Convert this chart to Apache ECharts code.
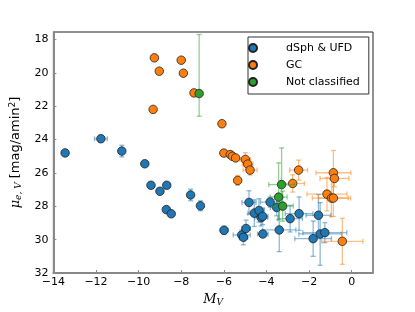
<!DOCTYPE html>
<html><head><meta charset="utf-8">
<script src="https://cdn.jsdelivr.net/npm/echarts@6/dist/echarts.min.js"></script>
<style>html,body{margin:0;padding:0;background:#fff}#c{width:415px;height:312px}</style>
</head><body><div id="c"></div>
<script>
// ---- data (M_V, mu_e,V, x error, y error lower/upper) ----
var dsphX = [-13.45,-11.77,-10.79,-9.71,-9.42,-9.0,-8.68,-8.7,-8.47,-7.56,-7.1,-5.99,-5.16,-5.08,-4.96,-4.82,-4.57,-4.35,-4.25,-4.18,-4.17,-3.83,-3.52,-3.4,-2.89,-2.47,-1.81,-1.56,-1.48,-1.26];
var dsphY = [24.8,23.95,24.69,25.45,26.74,27.1,26.74,28.2,28.45,27.32,27.97,29.44,29.72,29.86,29.33,27.77,28.41,28.25,28.68,28.6,29.66,27.75,28.07,29.42,28.74,28.44,29.94,28.54,29.66,29.58];
var dsphXErr = [0.05,0.3,0.12,0.08,0.08,0.08,0.08,0.08,0.05,0.12,0.1,0.18,0.4,0.2,0.2,0.33,0.3,0.25,0.3,0.25,0.25,0.45,0.3,0.78,0.58,0.65,0.86,0.58,1.0,1.03];
var dsphYErr = [0.1,0.2,0.35,0.12,0.1,0.1,0.1,0.12,0.1,0.35,0.3,0.25,0.3,0.45,0.5,0.7,0.8,0.7,0.5,0.5,0.2,0.3,0.5,1.3,0.8,1.0,1.06,1.25,1.88,0.6];

var gcX = [-9.26,-9.03,-9.32,-8.0,-7.9,-7.4,-6.09,-6.0,-5.7,-5.6,-5.45,-4.99,-4.88,-4.77,-5.35,-2.49,-2.77,-0.86,-0.81,-1.16,-0.95,-0.86,-0.44];
var gcY = [19.1,19.9,22.19,19.24,20.02,21.2,23.05,24.81,24.9,25.0,25.1,25.19,25.47,25.83,26.45,25.83,26.63,25.99,26.33,27.27,27.51,27.51,30.1];
var gcXErr = [0.03,0.03,0.03,0.03,0.03,0.03,0.03,0.1,0.1,0.1,0.15,0.25,0.25,0.33,0.15,0.42,0.55,0.82,0.68,0.94,0.9,0.7,0.97];
var gcYErr = [0.03,0.03,0.03,0.03,0.03,0.03,0.03,0.1,0.15,0.15,0.2,0.4,0.3,0.3,0.3,0.6,0.52,1.34,0.5,1.0,1.1,1.1,1.38];

var ncX = [-7.16,-3.29,-3.43,-3.24];
var ncY = [21.24,26.7,27.45,27.99];
var ncXErr = [0.03,0.6,0.4,0.5];
var ncYErrLo = [3.54,2.2,2.05,0.9];
var ncYErrHi = [1.36,1.4,1.35,0.9];

var xTicks = [-14,-12,-10,-8,-6,-4,-2,0];
var yTicks = [18,20,22,24,26,28,30,32];

var seriesNames = ['dSph & UFD','GC','Not classified'];
var colors = ['#1f77b4','#ff7f0e','#2ca02c'];
var errColors = ['rgba(31,119,180,0.5)','rgba(255,127,14,0.5)','rgba(44,160,44,0.5)'];

function rows(xs, ys, xe, yLo, yHi){
  return xs.map(function(x,i){ return [x, ys[i], xe[i], yLo[i], yHi[i]]; });
}
var groups = [
  rows(dsphX, dsphY, dsphXErr, dsphYErr, dsphYErr),
  rows(gcX, gcY, gcXErr, gcYErr, gcYErr),
  rows(ncX, ncY, ncXErr, ncYErrLo, ncYErrHi)
];

function errRender(color){
  return function(params, api){
    var x = api.value(0), y = api.value(1), xe = api.value(2), yl = api.value(3), yh = api.value(4);
    var l = api.coord([x - xe, y]), r = api.coord([x + xe, y]);
    var t = api.coord([x, y - yl]), b = api.coord([x, y + yh]);
    var cap = 2.5, st = {stroke: color, lineWidth: 1.3};
    var ch = [];
    function ln(x1,y1,x2,y2){ ch.push({type:'line', shape:{x1:x1,y1:y1,x2:x2,y2:y2}, style:st}); }
    ln(l[0], l[1], r[0], r[1]);
    ln(l[0], l[1]-cap, l[0], l[1]+cap);
    ln(r[0], r[1]-cap, r[0], r[1]+cap);
    ln(t[0], t[1], b[0], b[1]);
    ln(t[0]-cap, t[1], t[0]+cap, t[1]);
    ln(b[0]-cap, b[1], b[0]+cap, b[1]);
    return {type:'group', children: ch};
  };
}

var series = [];
groups.forEach(function(g, i){
  series.push({
    name: 'err' + i, type: 'custom', data: g, encode: {x: 0, y: 1},
    renderItem: errRender(errColors[i]), z: 2 + i * 2, silent: true, animation: false
  });
  series.push({
    name: seriesNames[i], type: 'scatter', data: g.map(function(r){ return [r[0], r[1]]; }),
    symbol: 'circle', symbolSize: 8.5, z: 3 + i * 2, animation: false,
    itemStyle: {color: colors[i], borderColor: '#222', borderWidth: 0.8, opacity: 1}
  });
});

function minus(v){ return String(v).replace('-', '\u2212'); }

var chart = echarts.init(document.getElementById('c'), null, {renderer: 'canvas'});
chart.setOption({
  animation: false,
  backgroundColor: '#fff',
  grid: {left: 52, right: 42, top: 32, bottom: 39, show: true, borderColor: '#222', borderWidth: 1, backgroundColor: 'transparent'},
  legend: {
    data: seriesNames, orient: 'vertical', left: 248, top: 37,
    padding: [4, 9, 5, 0], itemGap: 3, itemWidth: 20, itemHeight: 8,
    borderColor: '#333', borderWidth: 1, borderRadius: 0, icon: 'circle',
    textStyle: {fontFamily: 'DejaVu Sans', fontSize: 11, color: '#000', lineHeight: 14, padding: [0,0,0,18]}
  },
  xAxis: {
    type: 'value', min: -14, max: 1,
    name: '{m|M}{s|V}', nameLocation: 'middle', nameGap: 15,
    nameTextStyle: {rich: {
      m: {fontFamily: 'DejaVu Serif', fontStyle: 'italic', fontSize: 13, color: '#000'},
      s: {fontFamily: 'DejaVu Serif', fontStyle: 'italic', fontSize: 9, color: '#000', padding: [6,0,0,0]}
    }},
    axisLine: {show: true, onZero: false, lineStyle: {color: '#888', width: 2}},
    axisTick: {show: true, inside: true, length: 3, customValues: xTicks, lineStyle: {color: '#888'}},
    splitLine: {show: false},
    axisLabel: {fontFamily: 'DejaVu Sans', fontSize: 11, color: '#000', margin: 4, customValues: xTicks,
      formatter: minus}
  },
  yAxis: {
    type: 'value', min: 17.55, max: 32, inverse: true,
    name: '{mu|\u03bc}{s|e, V}{t| [mag/amin}{p|2}{t|]}', nameLocation: 'middle', nameGap: 12, nameRotate: 90,
    nameTextStyle: {rich: {
      mu: {fontFamily: 'DejaVu Serif', fontStyle: 'italic', fontSize: 13, color: '#000'},
      s: {fontFamily: 'DejaVu Serif', fontStyle: 'italic', fontSize: 9, color: '#000', padding: [6,0,0,0]},
      t: {fontFamily: 'DejaVu Sans', fontSize: 13, color: '#000'},
      p: {fontFamily: 'DejaVu Sans', fontSize: 9, color: '#000', padding: [0,0,7,0]}
    }},
    axisLine: {show: true, onZero: false, lineStyle: {color: '#888', width: 2}},
    axisTick: {show: true, inside: true, length: 3, customValues: yTicks, lineStyle: {color: '#888'}},
    splitLine: {show: false},
    axisLabel: {fontFamily: 'DejaVu Sans', fontSize: 11, color: '#000', margin: 5, customValues: yTicks}
  },
  series: series
});
</script></body></html>
